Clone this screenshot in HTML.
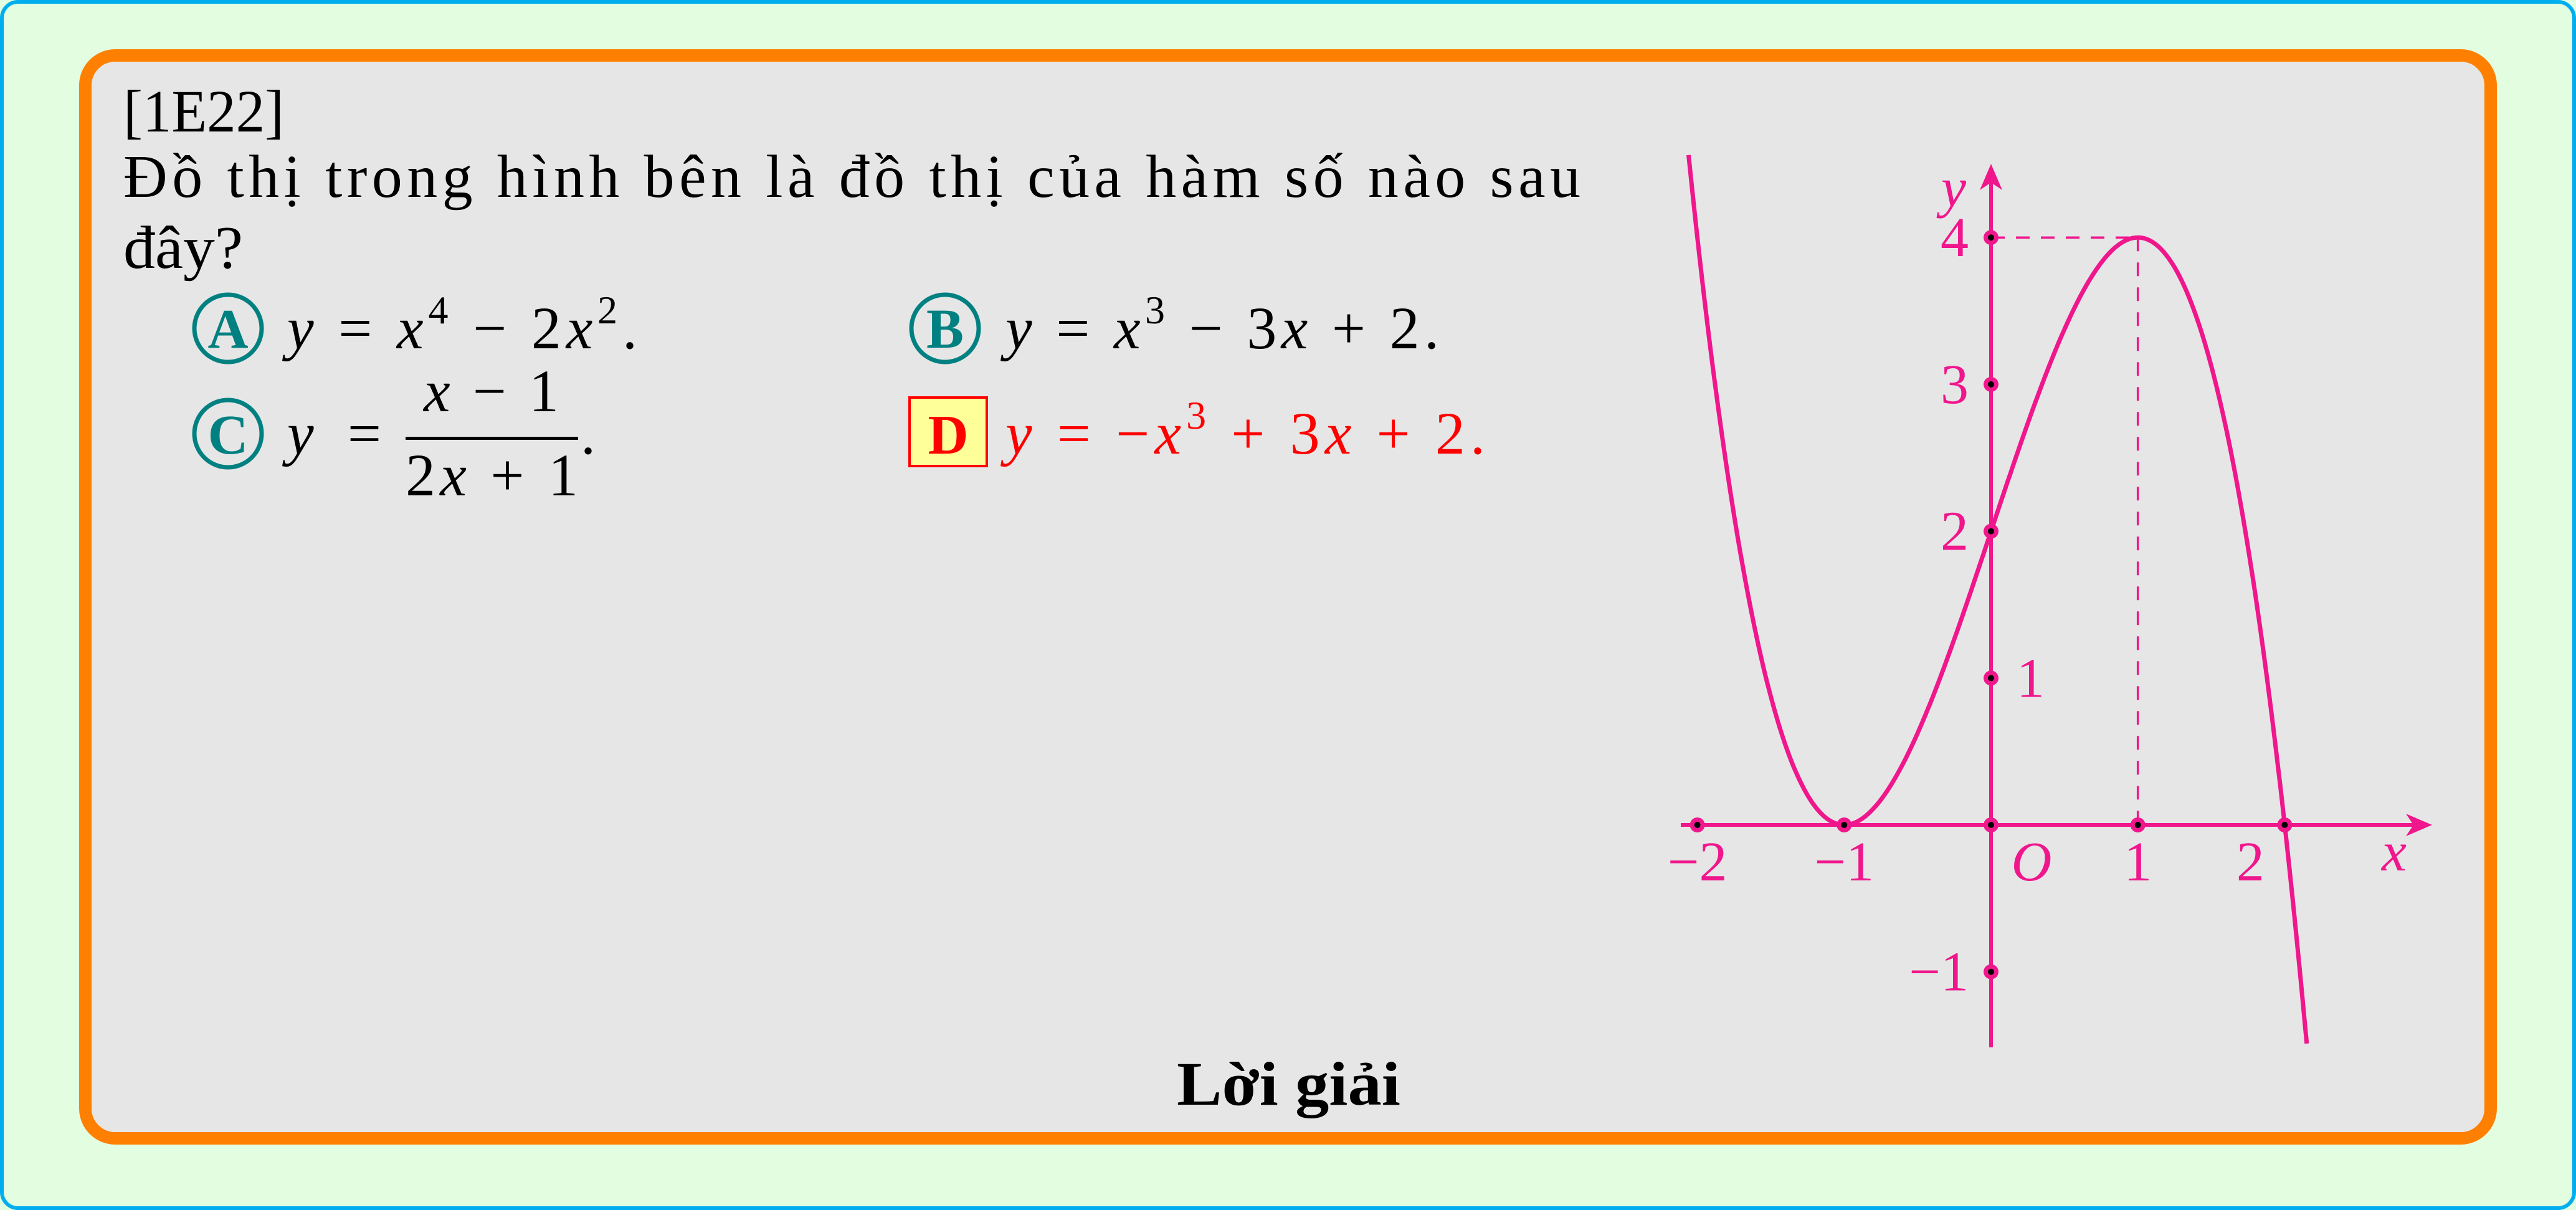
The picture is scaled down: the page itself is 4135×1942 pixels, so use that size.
<!DOCTYPE html>
<html><head><meta charset="utf-8">
<style>
html,body{margin:0;padding:0;background:#e3fde0;}
svg{display:block;}
text{font-family:"Liberation Serif",serif;}
.it{font-style:italic;}
</style></head>
<body>
<svg width="4135" height="1942" viewBox="0 0 4135 1942" xmlns="http://www.w3.org/2000/svg">
  <rect x="3" y="3" width="4129" height="1936" rx="26" fill="#e3fde0" stroke="#00aeef" stroke-width="6"/>
  <rect x="137" y="89" width="3861" height="1738" rx="48" fill="#e6e6e6" stroke="#ff8000" stroke-width="20"/>

  <text x="198" y="211" font-size="96" fill="#000" textLength="258" lengthAdjust="spacingAndGlyphs">[1E22]</text>
  <text x="198" y="316" font-size="98" fill="#000" textLength="2339" lengthAdjust="spacing">Đồ thị trong hình bên là đồ thị của hàm số nào sau</text>
  <text x="198" y="430" font-size="98" fill="#000" textLength="192" lengthAdjust="spacingAndGlyphs">đây?</text>

  <g>
    <circle cx="366" cy="527" r="54" fill="none" stroke="#008080" stroke-width="7"/>
    <text x="366" y="558" font-size="90" font-weight="bold" fill="#008080" text-anchor="middle">A</text>
    <text x="461" y="559" font-size="96" fill="#000" textLength="562" lengthAdjust="spacing"><tspan class="it">y</tspan> = <tspan class="it">x</tspan><tspan font-size="64" dy="-40">4</tspan><tspan dy="40"> − 2</tspan><tspan class="it">x</tspan><tspan font-size="64" dy="-40">2</tspan><tspan dy="40">.</tspan></text>
  </g>
  <g>
    <circle cx="1517" cy="527" r="54" fill="none" stroke="#008080" stroke-width="7"/>
    <text x="1517" y="558" font-size="90" font-weight="bold" fill="#008080" text-anchor="middle">B</text>
    <text x="1614" y="559" font-size="96" fill="#000" textLength="696" lengthAdjust="spacing"><tspan class="it">y</tspan> = <tspan class="it">x</tspan><tspan font-size="64" dy="-40">3</tspan><tspan dy="40"> − 3</tspan><tspan class="it">x</tspan> + 2.</text>
  </g>
  <g>
    <circle cx="366" cy="696" r="54" fill="none" stroke="#008080" stroke-width="7"/>
    <text x="366" y="728" font-size="90" font-weight="bold" fill="#008080" text-anchor="middle">C</text>
    <text x="461" y="728" font-size="96" fill="#000" textLength="151" lengthAdjust="spacing"><tspan class="it">y</tspan> =</text>
    <text x="680" y="660" font-size="96" fill="#000" textLength="217" lengthAdjust="spacing"><tspan class="it">x</tspan> − 1</text>
    <rect x="651" y="701" width="277" height="5" fill="#000"/>
    <text x="651" y="795" font-size="96" fill="#000" textLength="277" lengthAdjust="spacing">2<tspan class="it">x</tspan> + 1</text>
    <text x="932" y="728" font-size="96" fill="#000">.</text>
  </g>
  <g>
    <rect x="1460" y="638" width="124" height="110" fill="#ffff99" stroke="#ff0000" stroke-width="4"/>
    <text x="1522" y="728" font-size="90" font-weight="bold" fill="#ff0000" text-anchor="middle">D</text>
    <text x="1614" y="728" font-size="96" fill="#ff0000" textLength="770" lengthAdjust="spacing"><tspan class="it">y</tspan> = −<tspan class="it">x</tspan><tspan font-size="64" dy="-40">3</tspan><tspan dy="40"> + 3</tspan><tspan class="it">x</tspan> + 2.</text>
  </g>

  <text x="1889" y="1773" font-size="100" font-weight="bold" fill="#000" textLength="359" lengthAdjust="spacingAndGlyphs">Lời giải</text>

  <g id="chart"></g>
</svg>
<script>
const coefficients = [-1, 0, 3, 2]; // y = -x^3 + 0x^2 + 3x + 2
const xDomain = [-2.06, 2.15];
const xTickValues = [-2, -1, 0, 1, 2];
const xTickLabels = ["−2", "−1", "", "1", "2"];
const yTickValues = [-1, 1, 2, 3, 4];
const yTickLabels = ["−1", "1", "2", "3", "4"];
const maxPoint = [1, 4];

const OX = 3196, OY = 1324, U = 235.7;
const sx = v => OX + v * U;
const sy = v => OY - v * U;
const PINK = "#f0168c";
const NS = "http://www.w3.org/2000/svg";
const g = document.getElementById('chart');
function mk(tag, attrs, parent) {
  const e = document.createElementNS(NS, tag);
  for (const k in attrs) e.setAttribute(k, attrs[k]);
  (parent || g).appendChild(e);
  return e;
}
function f(x) { return coefficients.reduce((a, c) => a * x + c, 0); }

let ax = mk('line', {x1: 2698, y1: OY, x2: 3895, y2: OY, stroke: PINK, 'stroke-width': 6});


let ay = mk('line', {x1: OX, y1: 1681, x2: OX, y2: 272, stroke: PINK, 'stroke-width': 6});


let ahx = mk('path', {d: `M3904 ${OY} L3862 ${OY-18} L3874 ${OY} L3862 ${OY+18} Z`, fill: PINK});


let ahy = mk('path', {d: `M${OX} 263 L${OX-18} 305 L${OX} 293 L${OX+18} 305 Z`, fill: PINK});



let dh = mk('line', {x1: sx(0), y1: sy(maxPoint[1]), x2: sx(maxPoint[0]), y2: sy(maxPoint[1]), stroke: PINK, 'stroke-width': 3.5, 'stroke-dasharray': '22 18'});


let dv = mk('line', {x1: sx(maxPoint[0]), y1: sy(maxPoint[1]), x2: sx(maxPoint[0]), y2: sy(0), stroke: PINK, 'stroke-width': 3.5, 'stroke-dasharray': '22 18'});



let d = '';
const N = 300;
for (let i = 0; i <= N; i++) {
  const x = xDomain[0] + (xDomain[1] - xDomain[0]) * i / N;
  d += (i ? 'L' : 'M') + sx(x).toFixed(1) + ' ' + sy(f(x)).toFixed(1);
}
let curve = mk('path', {d: d, fill: 'none', stroke: PINK, 'stroke-width': 7});



function dot(cx, cy) {
  let c = mk('circle', {cx: cx, cy: cy, r: 12, fill: PINK});
  
  
  let c2 = mk('circle', {cx: cx, cy: cy, r: 5, fill: '#000'});
  
  
}
function label(x, y, txt, anchor, italic) {
  let t = mk('text', {x: x, y: y, 'font-size': 90, fill: PINK, 'text-anchor': anchor});
  if (italic) t.setAttribute('font-style', 'italic');
  t.textContent = txt;
  
  
}

xTickValues.forEach((v, i) => {
  dot(sx(v), OY);
  if (xTickLabels[i]) {
    const off = v === 2 ? -55 : 0;
    label(sx(v) + off, 1413, xTickLabels[i], 'middle');
  }
});
yTickValues.forEach((v, i) => {
  dot(OX, sy(v));
  if (v === 1) label(3237, sy(v) + 30, yTickLabels[i], 'start');
  else label(3160, sy(v) + 30, yTickLabels[i], 'end');
});
label(3261, 1413, 'O', 'middle', true);
label(3843, 1397, 'x', 'middle', true);
label(3136, 331, 'y', 'middle', true);
</script>
</body></html>
